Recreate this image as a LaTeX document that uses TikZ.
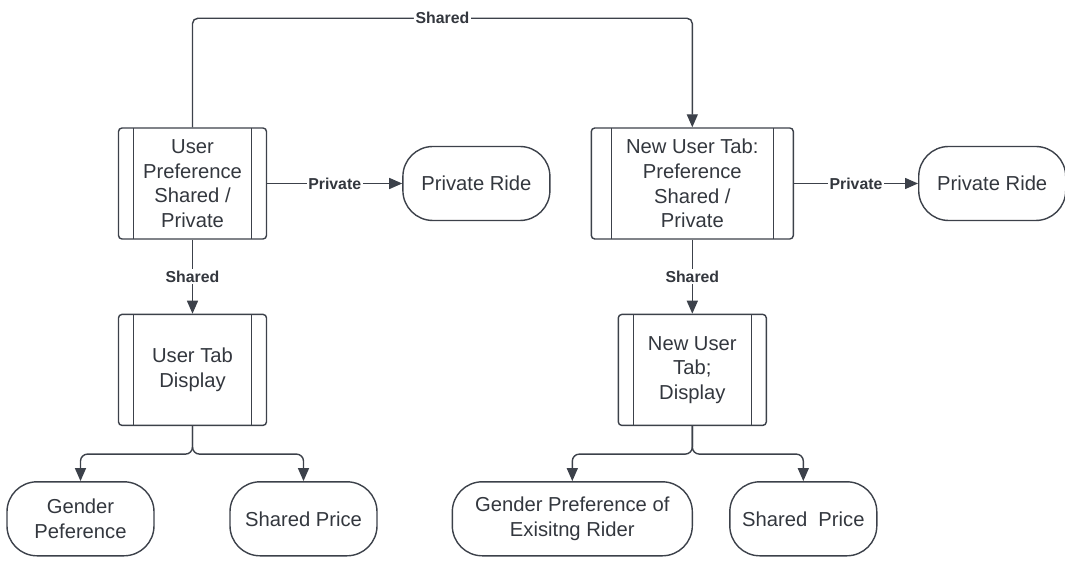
\documentclass[tikz,border=0pt]{standalone}
\usepackage{fontspec}
\setmainfont{Liberation Sans}
\usetikzlibrary{positioning, arrows.meta}
\definecolor{linecolor}{RGB}{60, 65, 74}
\definecolor{textcolor}{RGB}{51, 55, 62}

\begin{document}
\begin{tikzpicture}[
    node distance=1.48cm and 2.7cm,
    proc/.style={rectangle, draw=linecolor, line width=0.8pt, rounded corners=2pt, minimum width=2.96cm, minimum height=2.22cm, inner sep=0pt, align=center, text=textcolor, font=\fontsize{11.5}{14}\selectfont,
        path picture={
            \draw[linecolor, line width=0.8pt] ([xshift=#1]path picture bounding box.north west) -- ([xshift=#1]path picture bounding box.south west);
            \draw[linecolor, line width=0.8pt] ([xshift=-#1]path picture bounding box.north east) -- ([xshift=-#1]path picture bounding box.south east);
        }},
    proc/.default=0.3cm,
    term/.style={rectangle, draw=linecolor, line width=0.8pt, rounded corners=0.6cm, minimum width=2.94cm, minimum height=1.48cm, inner sep=0pt, align=center, text=textcolor, font=\fontsize{11.5}{14}\selectfont},
    arrow/.style={-{Triangle[length=0.26cm, width=0.22cm]}, draw=linecolor, line width=0.8pt},
    lbl/.style={fill=white, inner sep=1pt, text=textcolor, font=\fontsize{9}{10}\selectfont\bfseries},
]
\useasboundingbox (-3.85,-7.57) rectangle (17.45,3.67);

% ============ top row ============
\node[proc] (userpref) {User\\Preference\\Shared /\\Private};
\node[term, right=of userpref] (privride) {Private Ride};
\node[proc=0.4cm, minimum width=4.04cm, right=0.8cm of privride] (newpref) {New User Tab:\\Preference\\Shared /\\Private};
\node[term, right=2.48cm of newpref] (newprivride) {Private Ride};

% ============ tab display ============
\node[proc, below=of userpref] (usertab) {User Tab\\Display};
\node[proc, below=of newpref] (newtab) {New User\\Tab;\\Display};

% ============ bottom row ============
\node[term, below=1.1cm of usertab, xshift=-2.24cm] (gender) {Gender\\Peference};
\node[term, below=1.1cm of usertab, xshift=2.22cm] (price) {Shared Price};
\node[term, minimum width=4.8cm, below=1.1cm of newtab, xshift=-2.4cm] (newgender) {Gender Preference of\\Exisitng Rider};
\node[term, below=1.1cm of newtab, xshift=2.22cm] (newprice) {Shared\ \ Price};

% ============ bend points ============
\coordinate[above=2.18cm of userpref.north] (topleft);
\coordinate[below=0.56cm of usertab.south] (tabsplit);
\coordinate[below=0.56cm of newtab.south] (newtabsplit);

% ============ arrows ============
\draw[arrow, rounded corners=3pt] (userpref.north) -- (topleft) -| node[lbl, pos=0.25] {Shared} (newpref.north);
\draw[arrow] (userpref) -- node[lbl] {Private} (privride);
\draw[arrow] (userpref) -- node[lbl] {Shared} (usertab);
\draw[arrow] (newpref) -- node[lbl] {Private} (newprivride);
\draw[arrow] (newpref) -- node[lbl] {Shared} (newtab);

% branches
\draw[arrow, rounded corners=4pt] (usertab.south) -- (tabsplit) -| (gender.north);
\draw[arrow, rounded corners=4pt] (usertab.south) -- (tabsplit) -| (price.north);
\draw[arrow, rounded corners=4pt] (newtab.south) -- (newtabsplit) -| (newgender.north);
\draw[arrow, rounded corners=4pt] (newtab.south) -- (newtabsplit) -| (newprice.north);

\end{tikzpicture}
\end{document}
